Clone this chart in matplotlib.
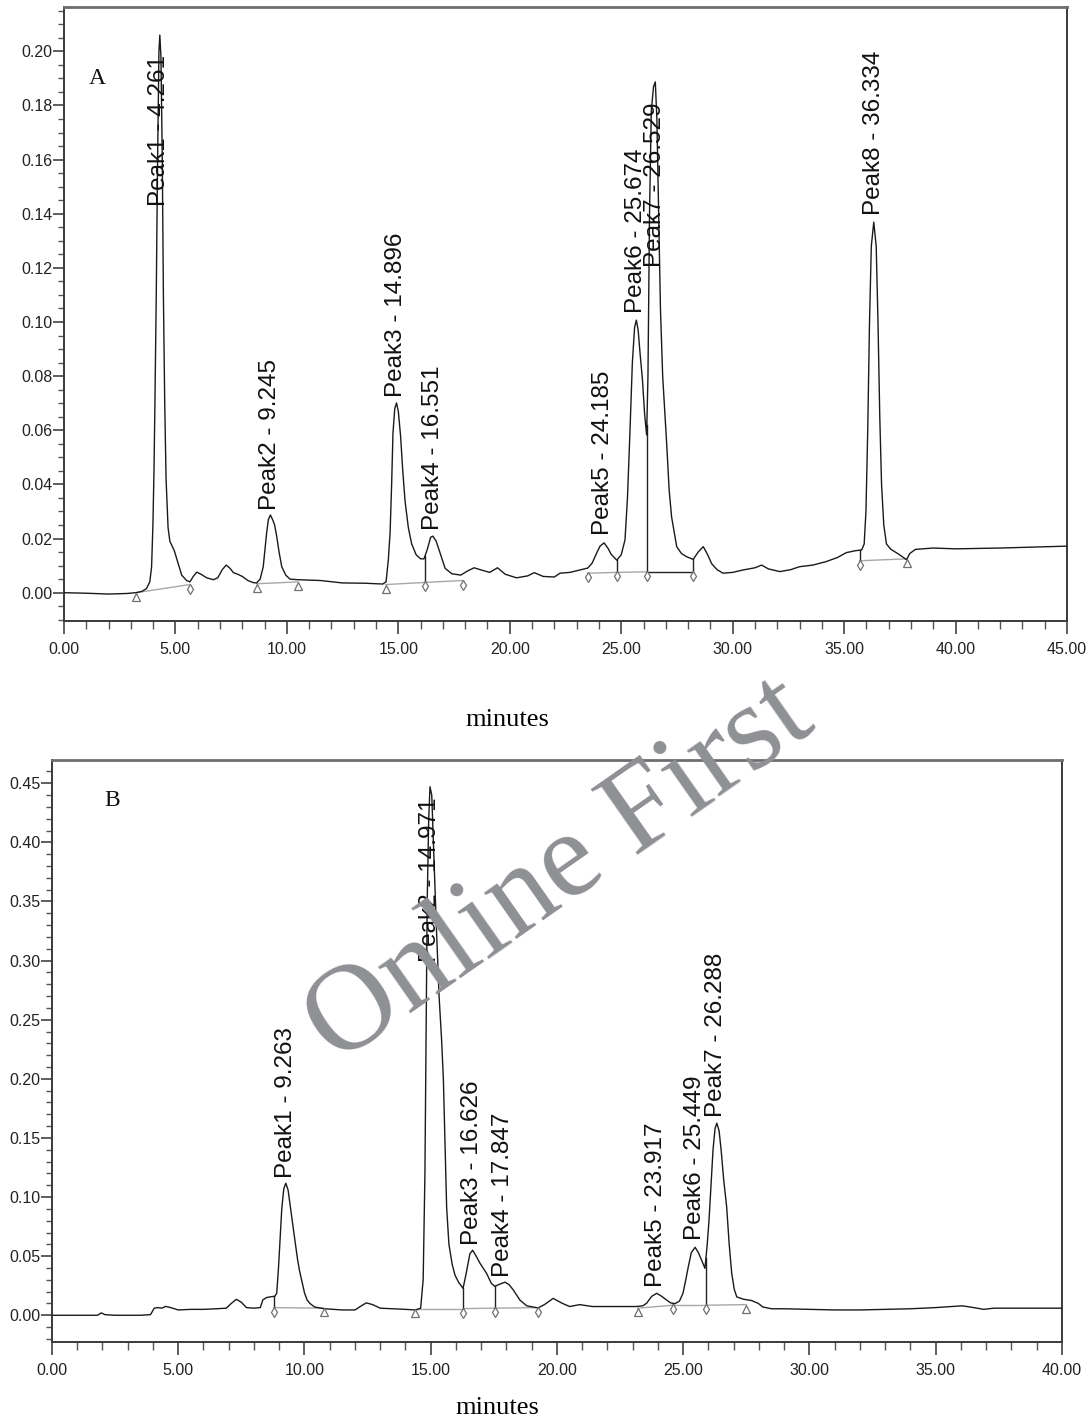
import numpy as np
import matplotlib
matplotlib.use('Agg')
import matplotlib.pyplot as plt
from matplotlib.ticker import MultipleLocator, FormatStrFormatter
from matplotlib.transforms import offset_copy

# ---- panel A trace (minutes, AU) ----
a_time = [0.0, 1.0, 2.0, 2.8, 3.23, 3.5, 3.7, 3.85, 3.93, 3.99,
          4.04, 4.08, 4.14, 4.2, 4.26, 4.3, 4.35, 4.41, 4.46, 4.52,
          4.58, 4.67, 4.75, 4.83, 4.95, 5.05, 5.28, 5.5, 5.65, 5.8,
          5.96, 6.15, 6.4, 6.7, 6.9, 7.1, 7.28, 7.45, 7.6, 7.8,
          8.0, 8.25, 8.5, 8.64, 8.8, 8.94, 9.02, 9.09, 9.17, 9.26,
          9.36, 9.45, 9.54, 9.65, 9.77, 9.95, 10.14, 10.5, 11.5, 12.5,
          13.5, 14.3, 14.45, 14.55, 14.63, 14.7, 14.76, 14.84, 14.92, 15.0,
          15.1, 15.2, 15.3, 15.45, 15.6, 15.8, 16.0, 16.15, 16.3, 16.45,
          16.55, 16.7, 16.9, 17.1, 17.4, 17.8, 18.1, 18.4, 18.8, 19.1,
          19.45, 19.8, 20.3, 20.8, 21.1, 21.5, 22.0, 22.25, 22.7, 23.2,
          23.5, 23.7, 23.9, 24.05, 24.23, 24.4, 24.55, 24.8, 25.0, 25.17,
          25.28, 25.39, 25.5, 25.6, 25.68, 25.76, 25.85, 25.95, 26.05, 26.14,
          26.2, 26.27, 26.35, 26.45, 26.53, 26.6, 26.68, 26.76, 26.86, 26.96,
          27.04, 27.15, 27.26, 27.49, 27.7, 27.93, 28.23, 28.45, 28.68, 28.85,
          29.06, 29.3, 29.57, 30.0, 30.47, 31.0, 31.3, 31.6, 32.12, 32.6,
          33.0, 33.6, 34.2, 34.7, 35.1, 35.5, 35.79, 35.9, 35.98, 36.06,
          36.14, 36.22, 36.33, 36.44, 36.52, 36.6, 36.68, 36.78, 36.9, 37.1,
          37.4, 37.7, 37.8, 37.95, 38.2, 39.0, 40.0, 42.0, 45.0]
a_abs = [0.0, -0.0002, -0.0005, -0.0003, 0.0, 0.0005, 0.0015, 0.004, 0.0095, 0.025,
         0.046, 0.07, 0.11, 0.16, 0.2, 0.206, 0.198, 0.16, 0.11, 0.07,
         0.042, 0.024, 0.019, 0.0176, 0.0155, 0.0128, 0.0065, 0.0045, 0.004, 0.006,
         0.0076, 0.0068, 0.0055, 0.0048, 0.0055, 0.0085, 0.0102, 0.009, 0.0074, 0.0068,
         0.006, 0.0045, 0.0037, 0.0036, 0.005, 0.0096, 0.016, 0.022, 0.027, 0.0287,
         0.027, 0.025, 0.021, 0.015, 0.0096, 0.0065, 0.005, 0.0048, 0.0045, 0.0036,
         0.0035, 0.0032, 0.004, 0.012, 0.022, 0.04, 0.059, 0.068, 0.0701, 0.067,
         0.058, 0.045, 0.034, 0.024, 0.018, 0.014, 0.0125, 0.0125, 0.016, 0.0205,
         0.0209, 0.019, 0.014, 0.009, 0.007, 0.0065, 0.008, 0.0092, 0.0082, 0.0075,
         0.0092, 0.0068, 0.0055, 0.0062, 0.0074, 0.006, 0.0058, 0.0072, 0.0075, 0.0085,
         0.0091, 0.011, 0.0147, 0.0172, 0.0184, 0.0165, 0.0142, 0.012, 0.014, 0.0195,
         0.035, 0.059, 0.085, 0.098, 0.1007, 0.097, 0.088, 0.079, 0.066, 0.0583,
         0.08, 0.14, 0.178, 0.187, 0.1887, 0.175, 0.14, 0.105, 0.08, 0.066,
         0.055, 0.038, 0.028, 0.017, 0.0145, 0.0133, 0.0123, 0.015, 0.017, 0.0145,
         0.0107, 0.0085, 0.0072, 0.0075, 0.0084, 0.0092, 0.0102, 0.0088, 0.0078, 0.0085,
         0.0096, 0.0102, 0.0115, 0.013, 0.0148, 0.0155, 0.0158, 0.018, 0.03, 0.06,
         0.1, 0.128, 0.1369, 0.128, 0.1, 0.065, 0.04, 0.025, 0.018, 0.016,
         0.0145, 0.0128, 0.0122, 0.0145, 0.016, 0.0165, 0.0162, 0.0165, 0.0172]

a_peak_names = ['Peak1', 'Peak2', 'Peak3', 'Peak4', 'Peak5', 'Peak6', 'Peak7', 'Peak8']
a_peak_rt = ['4.261', '9.245', '14.896', '16.551', '24.185', '25.674', '26.529', '36.334']

a_mark_t = [3.23, 5.65, 8.66, 10.5, 14.43, 16.2, 17.9, 23.5, 24.8, 26.15, 28.2, 35.7, 37.8]
a_mark_v = [0.0, 0.003, 0.0033, 0.004, 0.003, 0.0038, 0.0045, 0.0072, 0.0075, 0.0077, 0.0077, 0.0118, 0.0125]
a_mark_kind = ['^', 'd', '^', '^', '^', 'd', 'd', 'd', 'd', 'd', 'd', 'd', '^']
a_drop_t = [16.2, 24.8, 26.15, 28.2, 35.7]

# ---- panel B trace ----
b_time = [0.0, 1.0, 1.8, 1.95, 2.1, 2.5, 3.5, 3.9, 4.05, 4.2,
          4.35, 4.5, 4.7, 5.0, 5.5, 6.0, 6.5, 6.9, 7.1, 7.3,
          7.5, 7.7, 8.0, 8.25, 8.35, 8.5, 8.7, 8.82, 8.9, 8.97,
          9.03, 9.1, 9.18, 9.26, 9.35, 9.45, 9.54, 9.62, 9.72, 9.8,
          9.89, 10.0, 10.1, 10.22, 10.4, 10.8, 11.5, 12.0, 12.25, 12.45,
          12.7, 13.0, 13.5, 14.0, 14.4, 14.6, 14.7, 14.77, 14.82, 14.86,
          14.92, 14.97, 15.04, 15.12, 15.22, 15.33, 15.43, 15.5, 15.57, 15.63,
          15.72, 15.85, 15.96, 16.1, 16.28, 16.4, 16.55, 16.66, 16.8, 16.95,
          17.21, 17.4, 17.54, 17.7, 17.94, 18.1, 18.27, 18.53, 18.8, 19.25,
          19.5, 19.85, 20.2, 20.5, 20.9, 21.4, 22.2, 23.13, 23.4, 23.55,
          23.75, 23.95, 24.15, 24.34, 24.5, 24.67, 24.85, 24.99, 25.1, 25.2,
          25.32, 25.47, 25.6, 25.73, 25.86, 25.95, 26.02, 26.1, 26.18, 26.26,
          26.33, 26.42, 26.5, 26.6, 26.72, 26.82, 26.92, 27.02, 27.12, 27.4,
          27.7, 27.97, 28.15, 28.5, 29.0, 30.0, 31.0, 32.0, 33.0, 34.0,
          35.0, 35.7, 36.05, 36.5, 36.9, 37.3, 38.0, 40.0]
b_abs = [0.0, 0.0, 0.0, 0.002, 0.0005, 0.0, 0.0, 0.0005, 0.006, 0.0065,
         0.006, 0.0075, 0.0065, 0.0045, 0.005, 0.005, 0.0055, 0.006, 0.01, 0.0135,
         0.011, 0.0065, 0.006, 0.0065, 0.013, 0.015, 0.0158, 0.016, 0.0186, 0.04,
         0.0635, 0.09, 0.107, 0.1117, 0.106, 0.09, 0.075, 0.0635, 0.048, 0.038,
         0.0296, 0.019, 0.013, 0.0099, 0.007, 0.0055, 0.0045, 0.0045, 0.008, 0.0105,
         0.009, 0.006, 0.0055, 0.005, 0.0045, 0.006, 0.03, 0.12, 0.25, 0.35,
         0.42, 0.447, 0.44, 0.39, 0.33, 0.27, 0.233, 0.2, 0.14, 0.091,
         0.06, 0.043, 0.034, 0.028, 0.0228, 0.035, 0.052, 0.055, 0.05, 0.044,
         0.0355, 0.027, 0.0245, 0.026, 0.028, 0.026, 0.0214, 0.0129, 0.008, 0.0062,
         0.009, 0.0143, 0.0102, 0.0074, 0.009, 0.0074, 0.0074, 0.0074, 0.008, 0.0102,
         0.016, 0.0186, 0.016, 0.0129, 0.0105, 0.0098, 0.012, 0.0186, 0.03, 0.041,
         0.053, 0.0575, 0.053, 0.0465, 0.0397, 0.06, 0.08, 0.11, 0.14, 0.158,
         0.1625, 0.156, 0.14, 0.115, 0.0917, 0.06, 0.0355, 0.022, 0.0155, 0.0135,
         0.0125, 0.0101, 0.007, 0.0055, 0.0055, 0.005, 0.0045, 0.0045, 0.005, 0.0055,
         0.0065, 0.0075, 0.008, 0.0065, 0.005, 0.006, 0.006, 0.006]

b_peak_names = ['Peak1', 'Peak2', 'Peak3', 'Peak4', 'Peak5', 'Peak6', 'Peak7']
b_peak_rt = ['9.263', '14.971', '16.626', '17.847', '23.917', '25.449', '26.288']

b_mark_t = [8.79, 10.77, 14.38, 16.28, 17.54, 19.25, 23.2, 24.6, 25.9, 27.5]
b_mark_v = [0.0065, 0.006, 0.0056, 0.0056, 0.006, 0.0065, 0.006, 0.0085, 0.0085, 0.009]
b_mark_kind = ['d', '^', '^', 'd', 'd', 'd', '^', 'd', 'd', '^']
b_drop_t = [8.79, 16.28, 17.54, 24.6, 25.9]

SANS = 'Liberation Sans'
SERIF = 'Liberation Serif'

fig = plt.figure(figsize=(10.9, 14.21), dpi=100)
ax_a = fig.add_axes([0.0587, 0.5630, 0.9202, 0.4321])
ax_b = fig.add_axes([0.0477, 0.0556, 0.9266, 0.4096])


def draw_panel(ax, t, v, names, rts, label_base, mark_t, mark_v, kinds, pairs, dark_pairs, drops,
               xmax, ylim, ymajor, yminor):
    ax.plot(t, v, color='#1a1a1a', lw=1.0, zorder=3)

    # integration baselines
    for i, j in pairs:
        c = '#222222' if (i, j) in dark_pairs else '#a8a8a8'
        ax.plot([mark_t[i], mark_t[j]], [mark_v[i], mark_v[j]], color=c, lw=1.0, zorder=2)
    # drop lines from baseline up to the trace
    for d in drops:
        base = np.interp(d, mark_t, mark_v)
        top = np.interp(d, t, v)
        ax.plot([d, d], [base, top], color='#222222', lw=1.0, zorder=2)
    # start / end markers
    tr = offset_copy(ax.transData, fig=ax.figure, x=0, y=-4, units='dots')
    for mt, mv, k in zip(mark_t, mark_v, kinds):
        ax.plot(mt, mv, marker=k, ms=6 if k == '^' else 5.5, mfc='white', mec='#707070',
                mew=0.9, transform=tr, zorder=4)

    # peak labels
    for n, rt, yb in zip(names, rts, label_base):
        ax.text(float(rt), yb, f'{n} - {rt}', rotation=90, ha='center', va='bottom',
                fontsize=17.5, family=SANS, color='#111111', zorder=5)

    ax.set_xlim(0, xmax)
    ax.set_ylim(*ylim)
    ax.xaxis.set_major_locator(MultipleLocator(5))
    ax.xaxis.set_minor_locator(MultipleLocator(1))
    ax.xaxis.set_major_formatter(FormatStrFormatter('%.2f'))
    ax.yaxis.set_major_locator(MultipleLocator(ymajor))
    ax.yaxis.set_minor_locator(MultipleLocator(yminor))
    ax.yaxis.set_major_formatter(FormatStrFormatter('%.2f'))
    ax.tick_params(axis='x', which='major', direction='out', length=9, width=1.1,
                   color='#333333', pad=6, labelsize=11.5)
    ax.tick_params(axis='x', which='minor', direction='out', length=6, width=1.0, color='#555555')
    ax.tick_params(axis='y', which='major', direction='out', length=8, width=1.1,
                   color='#333333', pad=0.5, labelsize=11.5)
    ax.tick_params(axis='y', which='minor', direction='out', length=4, width=1.0, color='#555555')
    for lab in ax.get_xticklabels() + ax.get_yticklabels():
        lab.set_family(SANS)
        lab.set_color('#222222')
    for s in ['left', 'bottom', 'right']:
        ax.spines[s].set_color('#3a3a3a')
        ax.spines[s].set_linewidth(1.4)
    ax.spines['top'].set_color('#6e6e6e')
    ax.spines['top'].set_linewidth(2.0)


draw_panel(ax_a, a_time, a_abs, a_peak_names, a_peak_rt,
           [0.143, 0.0306, 0.0723, 0.0232, 0.0213, 0.1033, 0.1203, 0.1395],
           a_mark_t, a_mark_v, a_mark_kind,
           [(0, 1), (2, 3), (4, 5), (5, 6), (7, 8), (8, 9), (9, 10), (11, 12)],
           [(9, 10)], a_drop_t, 45, (-0.01045, 0.2164), 0.02, 0.005)

draw_panel(ax_b, b_time, b_abs, b_peak_names, b_peak_rt,
           [0.116, 0.2987, 0.0592, 0.032, 0.0237, 0.0635, 0.1676],
           b_mark_t, b_mark_v, b_mark_kind,
           [(0, 1), (2, 3), (3, 4), (4, 5), (6, 7), (7, 8), (8, 9)],
           [], b_drop_t, 40, (-0.0226, 0.4697), 0.05, 0.01)

ax_a.text(0.033, 0.884, 'A', transform=ax_a.transAxes, ha='center', va='center',
          fontsize=17, family=SERIF, color='#111111')
ax_b.text(0.0594, 0.931, 'B', transform=ax_b.transAxes, ha='center', va='center',
          fontsize=17, family=SERIF, color='#111111')

fig.text(0.465, 1 - 720 / 1421, 'minutes', ha='center', va='center', fontsize=19, family=SERIF)
fig.text(0.456, 1 - 1408 / 1421, 'minutes', ha='center', va='center', fontsize=19, family=SERIF)

# watermark
fig.text(0.514, 1 - 872 / 1421, 'Online First', ha='center', va='center', rotation=35,
         rotation_mode='anchor', fontsize=88, family=SERIF, color='#8e9094', zorder=10)

fig.savefig('out.png', dpi=100)
